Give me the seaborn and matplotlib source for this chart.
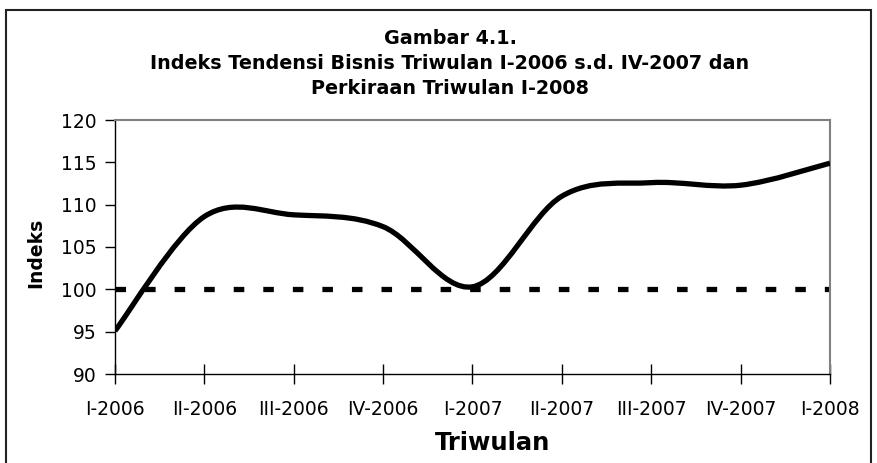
import numpy as np
import pandas as pd
import matplotlib
matplotlib.use("Agg")
import matplotlib.pyplot as plt
import seaborn as sns
from matplotlib.path import Path
from matplotlib.patches import PathPatch, Rectangle

# ---- data ----
categories = ["I-2006", "II-2006", "III-2006", "IV-2006", "I-2007",
              "II-2007", "III-2007", "IV-2007", "I-2008"]
index_values = [95.1, 108.6, 108.8, 107.4, 100.3, 111.0, 112.6, 112.3, 114.9]
reference_values = [100, 100, 100, 100, 100, 100, 100, 100, 100]
y_ticks = [90, 95, 100, 105, 110, 115, 120]

title_lines = ["Gambar 4.1.",
               "Indeks Tendensi Bisnis Triwulan I-2006 s.d. IV-2007 dan",
               "Perkiraan Triwulan I-2008"]

sns.set_theme(style="white")
plt.rcParams['font.family'] = ['DejaVu Sans']
plt.rcParams['text.color'] = 'black'
plt.rcParams['axes.labelcolor'] = 'black'
plt.rcParams['xtick.color'] = 'black'
plt.rcParams['ytick.color'] = 'black'

W, H = 878, 463
fig = plt.figure(figsize=(W / 100, H / 100), dpi=100)
ax = fig.add_axes([115 / W, 1 - 374 / H, (830 - 115) / W, (374 - 120) / H])

x = np.arange(len(categories))
df_ref = pd.DataFrame({"x": x, "y": reference_values})
sns.lineplot(data=df_ref, x="x", y="y", ax=ax, color="black", linewidth=3.8,
             dashes=False, solid_capstyle="butt")
ax.lines[-1].set_dashes([2.0, 3.6])
ax.lines[-1].set_dash_capstyle("butt")

# smoothed main line (Excel-style Bezier smoothing through the data points)
pts = np.column_stack([x, index_values]).astype(float)
n = len(pts)
verts = [tuple(pts[0])]
codes = [Path.MOVETO]
for i in range(n - 1):
    p0 = pts[i - 1] if i > 0 else pts[i]
    p1 = pts[i]
    p2 = pts[i + 1]
    p3 = pts[i + 2] if i + 2 < n else pts[i + 1]
    c1 = p1 + (p2 - p0) / 6.0
    c2 = p2 - (p3 - p1) / 6.0
    verts += [tuple(c1), tuple(c2), tuple(p2)]
    codes += [Path.CURVE4, Path.CURVE4, Path.CURVE4]
ax.add_patch(PathPatch(Path(verts, codes), facecolor="none", edgecolor="black",
                       linewidth=3.8, capstyle="butt", joinstyle="round", zorder=3))

ax.set_xlim(0, len(categories) - 1)
ax.set_ylim(90, 120)
ax.set_yticks(y_ticks)
ax.set_xticks(x)
ax.set_xticklabels(categories)
ax.tick_params(axis="y", direction="out", length=7, width=1, color="black",
               labelsize=13.5, pad=6, left=True, labelcolor="black")
ax.tick_params(axis="x", direction="inout", length=14, width=1, color="black",
               labelsize=13.5, pad=12, bottom=True, labelcolor="black")

for s in ["left", "bottom"]:
    ax.spines[s].set_color("black")
    ax.spines[s].set_linewidth(1.0)
for s in ["top", "right"]:
    ax.spines[s].set_visible(True)
    ax.spines[s].set_color("#808080")
    ax.spines[s].set_linewidth(1.5)

ax.set_xlabel("")
ax.set_ylabel("")
fig.text(493 / W, 1 - 443 / H, "Triwulan", ha="center", va="center",
         fontsize=17.5, fontweight="bold", color="black")
fig.text(36 / W, 1 - 253 / H, "Indeks", ha="center", va="center",
         rotation=90, fontsize=13.5, fontweight="bold", color="black")

for i, t in enumerate(title_lines):
    fig.text(450 / W, 1 - (39 + 24.5 * i) / H, t, ha="center", va="center",
             fontsize=13.8, fontweight="bold", color="black")

# outer chart border
fig.patches.append(Rectangle((6 / W, -0.05), (871 - 6) / W, 1 - 10 / H + 0.05,
                             transform=fig.transFigure, fill=False,
                             edgecolor="#222222", linewidth=1.5))

fig.savefig("out.png", dpi=100)
